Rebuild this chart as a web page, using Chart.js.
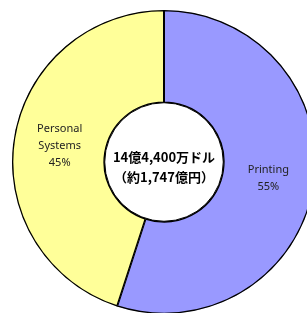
<!DOCTYPE html>
<html>
<head>
<meta charset="utf-8">
<script src="https://cdn.jsdelivr.net/npm/chart.js@4/dist/chart.umd.min.js"></script>
<style>
  html, body { margin: 0; padding: 0; background: #fff; overflow: hidden; }
  #wrap { position: absolute; left: 0; top: 0; width: 328px; height: 324px; }
</style>
</head>
<body>
<div id="wrap"><canvas id="myChart"></canvas></div>
<script>
var labels = ['Printing', 'Personal Systems'];
var labelLines = [['Printing'], ['Personal', 'Systems']];
var shares = [55, 45];
var colors = ['#9999FF', '#FFFF99'];
var centerLines = ['14億4,400万ドル', '（約1,747億円）'];

var sliceLabelPlugin = {
  id: 'sliceLabels',
  afterDatasetsDraw: function(chart) {
    var ctx = chart.ctx;
    var meta = chart.getDatasetMeta(0);
    ctx.save();
    ctx.fillStyle = '#222';
    ctx.font = '11px "Noto Sans", sans-serif';
    ctx.textAlign = 'center';
    ctx.textBaseline = 'middle';
    meta.data.forEach(function(arc, i) {
      var pos = arc.tooltipPosition();
      var lines = labelLines[i].concat([shares[i] + '%']);
      var lh = 17;
      var y0 = pos.y - (lines.length - 1) * lh / 2;
      for (var k = 0; k < lines.length; k++) {
        ctx.fillText(lines[k], pos.x, y0 + k * lh);
      }
    });

    // hole outline and center text
    var arc0 = meta.data[0];
    ctx.beginPath();
    ctx.arc(arc0.x, arc0.y, arc0.innerRadius, 0, Math.PI * 2);
    ctx.strokeStyle = '#000';
    ctx.lineWidth = 1;
    ctx.stroke();
    ctx.fillStyle = '#000';
    ctx.font = 'bold 13px "Noto Sans CJK JP", sans-serif';
    ctx.fillText(centerLines[0], arc0.x, arc0.y - 5);
    ctx.fillText(centerLines[1], arc0.x, arc0.y + 15);
    ctx.restore();
  }
};

var myChart = new Chart(document.getElementById('myChart'), {
  type: 'doughnut',
  data: {
    labels: labels,
    datasets: [{
      data: shares,
      backgroundColor: colors,
      borderColor: '#000',
      borderWidth: 1,
      borderAlign: 'inner'
    }]
  },
  options: {
    responsive: true,
    maintainAspectRatio: false,
    animation: false,
    cutout: '39%',
    layout: { padding: 10 },
    plugins: {
      legend: { display: false },
      tooltip: { enabled: false }
    }
  },
  plugins: [sliceLabelPlugin]
});
</script>
</body>
</html>
